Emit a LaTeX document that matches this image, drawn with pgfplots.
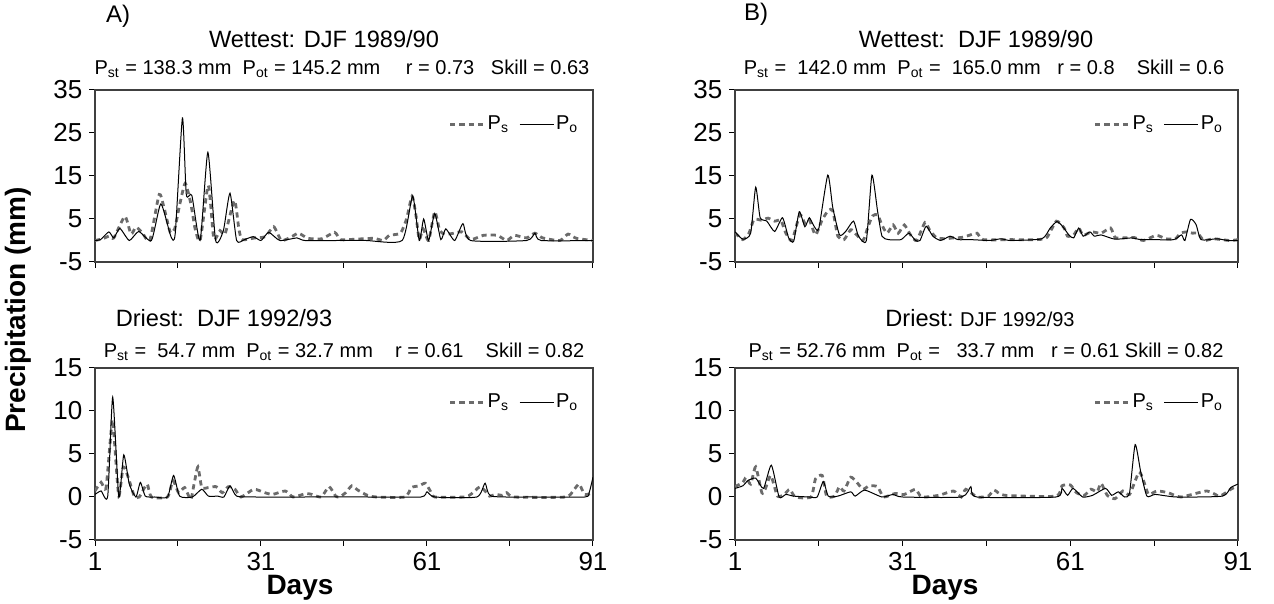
\documentclass[border=0pt]{standalone}
\usepackage{fontspec}
\setmainfont{Liberation Sans}
\usepackage{pgfplots}
\pgfplotsset{compat=1.18}
\pgfplotsset{
  panel/.style={
    scale only axis, width=249pt, height=86pt, anchor=south west,
    xmin=1, xmax=91, xtick={1,16,31,46,61,76,91},
    tick align=outside, xtick pos=bottom, ytick pos=left,
    major tick length=2.8pt,
    axis line style={black!75, line width=0.7pt},
    tick style={black, line width=0.5pt},
    ticklabel style={font=\fontsize{13}{14}\selectfont},
    /pgf/number format/assume math mode=true,
    legend style={draw=none, fill=none, font=\fontsize{10}{12}\selectfont,
      at={(0.975,0.8)}, anchor=east, legend columns=2, inner xsep=0pt,
      nodes={inner xsep=1pt},
      /tikz/every even column/.append style={column sep=4pt}},
    legend image code/.code={\draw[##1] (0pt,0pt) -- (17pt,0pt);},
  },
  toppanel/.style={panel, ymin=-5, ymax=35, ytick={-5,5,15,25,35}, xticklabels={}},
  botpanel/.style={panel, ymin=-5, ymax=15, ytick={-5,0,5,10,15}, xticklabels={1,,31,,61,,91}},
  ps/.style={black!58, line width=1.4pt, dash pattern=on 2.6pt off 2pt, smooth, tension=0.35},
  po/.style={black, line width=0.5pt, smooth, tension=0.35},
}
\begin{document}
\begin{tikzpicture}
\useasboundingbox (0pt,0pt) rectangle (637pt,302pt);

% ---------- A) top: wettest ----------
\begin{axis}[toppanel, at={(47.5pt,171pt)}]
\addplot[ps] coordinates {(1,0) (2.4,0.4) (3.5,1) (4.4,0.6) (6.4,5.6) (7.5,1.5) (8.4,3.1) (9.5,1.9) (10.9,0) (12.6,10.7) (13.5,7.5) (14.6,1.9) (15.4,2.7) (16.3,8.3) (17.3,13.3) (18.3,8.7) (19.1,2.7) (20,0) (21.4,12.7) (21.9,8.3) (22.5,0.2) (23.6,2.3) (24.5,1.5) (26.2,9.3) (27,2.7) (27.6,0.2) (29.9,0.6) (31.8,0.9) (33.3,3.2) (34.7,0) (36.7,1) (37.8,1.7) (39.5,0.5) (42,0.4) (44.3,1.9) (45.4,0.2) (48,0.3) (51.4,0.5) (53.1,0) (54.2,1.2) (56.2,1.7) (57.3,5) (58.3,10.3) (59,5.9) (59.6,0.2) (60.3,2.7) (61.3,0) (62.4,6.7) (63.3,2.3) (64.2,1.5) (65.5,1.6) (67.3,2) (68.9,0.2) (71.2,1.2) (73.7,1.2) (75.4,0) (76.8,1.2) (79,0.6) (80.5,1.7) (81.9,0.6) (85,0) (86.5,1.5) (88,0.5) (91,0)};
\addlegendentry{P\textsubscript{s}}
\addplot[po] coordinates {(1,0) (2,0.2) (3.5,2.0) (4.4,0.6) (5.5,2.8) (7.2,0) (8.9,2.1) (11.2,0) (12.9,8.5) (14.7,1.0) (15.5,1.6) (16.8,28.5) (17.5,10.7) (18.5,10.5) (20,0) (21.4,20.5) (22.8,0) (24.2,2.3) (25.4,11) (26.6,0) (28,0.2) (29.6,0.9) (31,0) (32.4,1.9) (34.4,0) (37.5,0.6) (38.9,0) (45,0) (50,0) (56.5,0) (58.4,10.3) (59.6,0) (60.4,5) (61.3,0) (62.4,6.3) (63.5,0.2) (64.4,2.7) (66,0) (67.5,3.9) (68.9,0) (79,0) (80.5,1.7) (81.6,0) (91,0)};
\addlegendentry{P\textsubscript{o}}
\end{axis}

% ---------- A) bottom: driest ----------
\begin{axis}[botpanel, at={(47.5pt,32pt)}]
\addplot[ps] coordinates {(1,0.7) (2.1,1.7) (3,1.1) (4.1,8.9) (4.5,6.6) (5.3,0.1) (6.1,3.5) (7,2.3) (8.1,0.1) (9,0) (10.4,1.5) (11.2,0) (14.1,0) (15.1,1.9) (16.1,0.5) (17.2,1.1) (18.3,-0.3) (18.9,1.5) (19.6,3.5) (20.3,1.1) (21.5,1.1) (22.9,1.2) (24,0.5) (25.1,1.2) (26.3,0.9) (27.4,0) (29.7,0.9) (31.7,0.5) (33.1,0.3) (35.4,0.7) (36.8,0) (39.1,0.4) (40.2,0.3) (41.9,0) (43.3,1.2) (44.5,0.1) (45.2,0) (46.3,0.5) (47.4,1.3) (48.5,0.8) (50.2,0.2) (51.9,0) (57,0) (58.2,1.1) (59.6,1.3) (60.7,1.6) (61.6,0.7) (62.4,0) (67.8,0) (68.9,0.3) (69.8,0.8) (70.6,1.2) (71.5,0.7) (72.3,0.1) (73.4,0.3) (74.6,0.2) (75.4,0.5) (76.8,0) (86,0) (87.5,0.8) (88.5,1.5) (89.5,0.3) (91,0.5)};
\addlegendentry{P\textsubscript{s}}
\addplot[po] coordinates {(1,0.3) (2.1,0.7) (3.3,0.1) (4.2,11.6) (5.3,0) (6.2,4.9) (7.2,1.5) (8.4,0) (9.2,1.7) (10.1,0.1) (11.8,0) (14.1,0) (15.2,2.5) (16.3,0.1) (18.6,0) (20.3,0.9) (21.5,0.1) (23.2,0.1) (24.3,0) (25.4,1.3) (26.6,0.1) (30,0) (40,0) (50,0) (59.9,0) (61,0.6) (62.4,0) (70,0) (71.5,1.6) (72.6,0.1) (80,0) (89.5,0) (90.3,0.5) (91,2.3)};
\addlegendentry{P\textsubscript{o}}
\end{axis}

% ---------- B) top: wettest ----------
\begin{axis}[toppanel, at={(367.5pt,171pt)}, width=251.5pt]
\addplot[ps] coordinates {(1,1.8) (2.4,0.2) (3.5,1.7) (4.4,4.9) (5.8,4.7) (6.9,5.2) (8.1,4.5) (9.2,4.7) (10.1,1.7) (11.2,0) (12.6,6) (13.5,4) (14.3,4.8) (15.4,1.3) (16.6,4.8) (17.7,7) (18.5,6.9) (19.4,1) (20.5,0.2) (21.7,2.5) (22.5,1.7) (23.9,0) (24.8,3.2) (25.6,5.7) (26.5,6) (27.3,3.6) (28.2,1.7) (29.3,3.6) (30.2,1.7) (31.3,3.6) (32.4,1.3) (33.5,0) (35,4.2) (35.8,2.5) (37,0.7) (38.6,0.4) (40,0.6) (41.5,0.7) (42.9,1.2) (44.3,1.7) (45.4,0.2) (50,0.2) (55,0.2) (56.8,0.7) (58.5,4.5) (59.9,2.9) (60.5,1) (61.6,1.3) (62.5,2.9) (63.3,1.2) (64.8,2) (66.5,1.7) (68.2,2.9) (69,0.7) (70.4,0.6) (72.4,0.7) (74.1,0) (76.4,1.2) (78.1,0.4) (79.8,0.4) (80.7,1.7) (81.8,2) (82.9,1.7) (83.8,1.7) (84.9,0) (86.6,0.4) (89.5,0) (91,0.2)};
\addlegendentry{P\textsubscript{s}}
\addplot[po] coordinates {(1,2) (2.4,0.3) (3.8,1.7) (4.7,12.4) (5.5,5.3) (6.7,4.5) (8.1,2.1) (9.5,5.3) (10.6,0.6) (11.5,-0.2) (12.5,6.7) (13.5,3.2) (14.3,5.3) (15.2,3.2) (16,2.8) (17.6,15.2) (18.5,7.6) (19.7,1.3) (20.8,2.1) (22.2,4.5) (23.1,1) (24.5,0) (25.5,15.2) (26.5,6.9) (27.3,1) (28.5,0.2) (30.7,0.2) (32.1,1.7) (33.3,0) (34.1,0) (35.2,3.3) (36.4,1) (37.8,0) (39.5,1) (40.9,0.2) (43.2,0.2) (46.6,0) (48.6,0.4) (50.3,0) (55.9,0.4) (57.4,2.9) (58.6,4.4) (59.6,3.3) (60.8,1.2) (61.6,0.6) (62.5,2.9) (63.3,1) (64.5,2) (65.3,1) (66.5,1.3) (69,0.3) (71.9,0.6) (73.6,0.2) (75.8,0.2) (79.5,0.2) (80.9,1.3) (81.5,0) (82.5,4.9) (83.5,3.7) (84.4,0.2) (87.2,0.4) (89.2,0) (91,0)};
\addlegendentry{P\textsubscript{o}}
\end{axis}

% ---------- B) bottom: driest ----------
\begin{axis}[botpanel, at={(367.5pt,32pt)}, width=251.5pt]
\addplot[ps] coordinates {(1,1.2) (2.4,1.7) (3,2.3) (3.8,1.5) (4.7,3.5) (5.8,0.5) (6.4,0.9) (7.4,2.5) (8.6,0.1) (9.8,0.3) (10.8,0.9) (11.8,0) (14.6,0) (15.4,2.1) (16.6,2.5) (17.4,0.1) (18.8,0.1) (19.7,1.2) (20.5,0.7) (21.7,2.3) (22.8,1.7) (23.9,0.9) (25,1.3) (26.5,1.2) (27.6,0) (29.6,0.4) (31.3,0.3) (33.3,0.9) (34.4,0) (37.5,0.2) (40.1,0.7) (41.5,0) (42.3,0.9) (44.3,0) (46.3,0.1) (47.4,0.8) (49.2,0.2) (58.4,0.1) (59.5,1.3) (61,1.4) (62.1,0.5) (63.5,0.2) (64.7,0.9) (65.8,0.6) (66.5,1.6) (67.6,0.2) (69,-0.2) (70.4,0.7) (71.6,0.3) (73.3,2.9) (74.2,1.7) (75,0.3) (76.5,0.7) (78.5,0.5) (80.8,0) (85.4,0.7) (87.7,0.1) (89.7,0.9) (91,1.3)};
\addlegendentry{P\textsubscript{s}}
\addplot[po] coordinates {(1,1) (2.4,1.3) (3.3,1.9) (4.7,2.2) (6.1,1) (7.5,3.7) (8.9,0) (10.1,0.3) (11.5,0.1) (14.3,0) (15.7,0) (16.8,1.8) (17.7,0.1) (19.4,0.1) (21.7,0.6) (22.5,0.1) (24.2,0.8) (27.3,0) (29.3,0.3) (31,0) (41.5,0) (43.2,1.2) (44.3,0) (58.4,0) (59.5,1) (60.5,0.2) (61.5,1) (63.2,0) (65,0.2) (67.3,1) (68.4,0.2) (69.6,0.6) (70.7,0) (71.6,0.5) (72.6,6.1) (73.6,2.9) (74.7,0.1) (76.2,0.3) (80,0) (88.2,0.1) (89.7,1.1) (91,1.5)};
\addlegendentry{P\textsubscript{o}}
\end{axis}

% ---------- texts ----------
\node[font=\fontsize{12}{13}\selectfont] at (59pt,294pt) {A)};
\node[font=\fontsize{12}{13}\selectfont] at (378pt,295pt) {B)};
\node[font=\fontsize{11.8}{13}\selectfont] at (162pt,282.5pt) {Wettest: DJF 1989/90};
\node[font=\fontsize{11.8}{13}\selectfont] at (488pt,282.5pt) {Wettest:\ \ DJF 1989/90};
\node[font=\fontsize{10}{12}\selectfont] at (171pt,267.5pt) {P\textsubscript{st} = 138.3 mm\ \ P\textsubscript{ot} = 145.2 mm\quad\ r = 0.73\ \ \ Skill = 0.63};
\node[font=\fontsize{10}{12}\selectfont] at (492pt,267.5pt) {P\textsubscript{st} =\ \ 142.0 mm\ \ P\textsubscript{ot} =\ \ 165.0 mm\ \ \ r = 0.8\ \ \ \ Skill = 0.6};
\node[font=\fontsize{11.8}{13}\selectfont] at (112pt,143pt) {Driest:\ \ DJF 1992/93};
\node[font=\fontsize{11.8}{13}\selectfont] at (490pt,143pt) {Driest:\ {\fontsize{10}{12}\selectfont DJF 1992/93}};
\node[font=\fontsize{10}{12}\selectfont] at (172pt,126pt) {P\textsubscript{st} =\ \ 54.7 mm\ \ P\textsubscript{ot} =\ 32.7 mm\ \ \ \ r = 0.61\ \ \ \ Skill = 0.82};
\node[font=\fontsize{10}{12}\selectfont] at (493pt,126pt) {P\textsubscript{st} =\ 52.76 mm\ \ P\textsubscript{ot} =\ \ \ 33.7 mm\ \ \ r = 0.61\ Skill = 0.82};
\node[font=\bfseries\fontsize{14}{16}\selectfont, rotate=90] at (9pt,147pt) {Precipitation (mm)};
\node[font=\bfseries\fontsize{14}{16}\selectfont] at (150pt,8pt) {Days};
\node[font=\bfseries\fontsize{14}{16}\selectfont] at (472.5pt,8pt) {Days};
\end{tikzpicture}
\end{document}
